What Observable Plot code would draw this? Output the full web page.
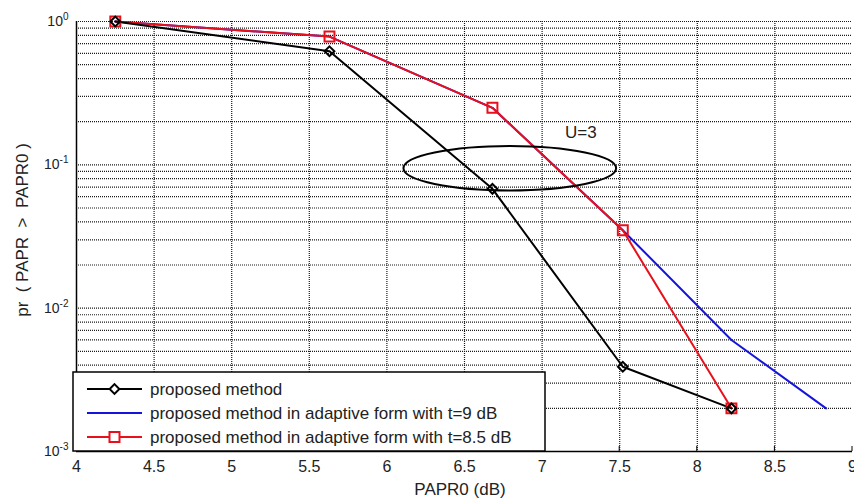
<!DOCTYPE html>
<html>
<head>
<meta charset="utf-8">
<script src="https://cdn.jsdelivr.net/npm/d3@7"></script>
<script src="https://cdn.jsdelivr.net/npm/@observablehq/plot@0.6"></script>
<style>
  body { margin: 0; background: #fff; }
  #chart { width: 854px; height: 500px; font-family: "Liberation Sans", Arial, sans-serif; }
  svg { overflow: visible; }
</style>
</head>
<body>
<div id="chart"></div>
<script>
// ---- data ----
const xBlack = [4.25, 5.63, 6.68, 7.52, 8.22];
const yBlack = [1.0, 0.62, 0.068, 0.0039, 0.002];
const xBlue = [4.25, 5.63, 6.68, 7.52, 8.22, 8.83];
const yBlue = [1.0, 0.785, 0.25, 0.035, 0.006, 0.002];
const xRed = [4.25, 5.63, 6.68, 7.52, 8.22];
const yRed = [1.0, 0.785, 0.25, 0.035, 0.002];
const seriesNames = [
  "proposed method",
  "proposed method in adaptive form with t=9 dB",
  "proposed method in adaptive form with t=8.5 dB"
];
const xTicks = [4, 4.5, 5, 5.5, 6, 6.5, 7, 7.5, 8, 8.5, 9];
const xTickLabels = ["4", "4.5", "5", "5.5", "6", "6.5", "7", "7.5", "8", "8.5", "9"];
const yTicks = [1e-3, 1e-2, 1e-1, 1];
const yTickExponents = ["-3", "-2", "-1", "0"];
const yMinorGrid = [1e-3, 2e-3, 3e-3, 4e-3, 5e-3, 6e-3, 7e-3, 8e-3, 9e-3,
                    1e-2, 2e-2, 3e-2, 4e-2, 5e-2, 6e-2, 7e-2, 8e-2, 9e-2,
                    1e-1, 2e-1, 3e-1, 4e-1, 5e-1, 6e-1, 7e-1, 8e-1, 9e-1, 1];
const xGrid = [4.5, 5, 5.5, 6, 6.5, 7, 7.5, 8, 8.5];
// annotation: ellipse bounds (data units) and label
const ellipseX = [6.11, 7.48];
const ellipseY = [0.0658, 0.134];
const annoText = "U=3";
const annoX = 7.25, annoY = 0.167;

const black = rows(xBlack, yBlack);
const blue = rows(xBlue, yBlue);
const red = rows(xRed, yRed);
function rows(xs, ys) { return xs.map((x, i) => ({x, y: ys[i]})); }

const BLK = "#000000", BLU = "#1414dc", RED = "#e8101c";
const gridStyle = {stroke: "#1a1a1a", strokeWidth: 1.2, strokeDasharray: "1,1"};

const plot = Plot.plot({
  width: 854,
  height: 500,
  marginLeft: 76,
  marginRight: 2,
  marginTop: 21,
  marginBottom: 49,
  style: {fontFamily: "'Liberation Sans', Arial, sans-serif", fontSize: "16px", color: "#222", background: "#fff"},
  x: {domain: [4, 9]},
  y: {type: "log", domain: [1e-3, 1]},
  marks: [
    Plot.ruleY(yMinorGrid, gridStyle),
    Plot.ruleX(xGrid, gridStyle),
    Plot.axisX({ticks: xTicks, tickFormat: (d) => xTickLabels[xTicks.indexOf(d)], tickSize: 0, tickPadding: 9, label: null, fontSize: 16}),
    Plot.axisY({ticks: yTicks, tickFormat: (d) => "10|" + yTickExponents[yTicks.indexOf(d)], tickSize: 0, tickPadding: 8, label: null, fontSize: 14}),
    Plot.ruleX([4], {stroke: "#000", strokeWidth: 1.5}),
    Plot.ruleY([1e-3], {stroke: "#000", strokeWidth: 1.5}),
    Plot.line(blue, {x: "x", y: "y", stroke: BLU, strokeWidth: 2}),
    Plot.line(red, {x: "x", y: "y", stroke: RED, strokeWidth: 2}),
    Plot.line(black, {x: "x", y: "y", stroke: BLK, strokeWidth: 2}),
    Plot.dot(red, {x: "x", y: "y", symbol: "square", r: 5.6, stroke: RED, strokeWidth: 2, fill: "none"}),
    Plot.dot(black, {x: "x", y: "y", symbol: "diamond2", r: 4.4, stroke: BLK, strokeWidth: 2, fill: "none"}),
    Plot.text([annoText], {x: annoX, y: annoY, text: (d) => d, fontSize: 17, fill: "#222"})
  ]
});

document.getElementById("chart").appendChild(plot);

const sx = plot.scale("x"), sy = plot.scale("y");
const svg = d3.select(plot);

// superscript exponents on y tick labels
svg.selectAll('g[aria-label="y-axis tick label"] text').each(function() {
  const t = d3.select(this);
  const parts = t.text().split("|");
  t.text(null);
  t.append("tspan").text(parts[0]);
  t.append("tspan").attr("dy", "-0.6em").attr("font-size", 10).text(parts[1]);
});

// inward tick marks along bottom
const y0 = sy.apply(1e-3);
xTicks.forEach((v) => {
  const px = sx.apply(v);
  svg.append("line").attr("x1", px).attr("x2", px).attr("y1", y0).attr("y2", y0 - 5).attr("stroke", "#000").attr("stroke-width", 1);
});

// ellipse annotation
const ex1 = sx.apply(ellipseX[0]), ex2 = sx.apply(ellipseX[1]);
const ey1 = sy.apply(ellipseY[1]), ey2 = sy.apply(ellipseY[0]);
svg.append("ellipse")
  .attr("cx", (ex1 + ex2) / 2).attr("cy", (ey1 + ey2) / 2)
  .attr("rx", (ex2 - ex1) / 2).attr("ry", (ey2 - ey1) / 2)
  .attr("fill", "none").attr("stroke", "#000").attr("stroke-width", 2);

// axis titles
svg.append("text").attr("x", 460).attr("y", 495)
  .attr("text-anchor", "middle").attr("font-size", 17).attr("fill", "#222")
  .text("PAPR0 (dB)");
svg.append("text").attr("transform", "translate(28,230) rotate(-90)")
  .attr("text-anchor", "middle").attr("font-size", 17).attr("fill", "#222")
  .text("pr\u00a0\u00a0(\u00a0PAPR\u00a0\u00a0>\u00a0\u00a0PAPR0\u00a0)");

// legend box
const lg = svg.append("g").attr("text-anchor", "start");
lg.append("rect").attr("x", 73).attr("y", 372).attr("width", 472).attr("height", 79)
  .attr("fill", "#fff").attr("stroke", "#000").attr("stroke-width", 1.5);
const rowY = [389, 413, 437];
const colors = [BLK, BLU, RED];
rowY.forEach((ry, i) => {
  lg.append("line").attr("x1", 87).attr("x2", 142).attr("y1", ry).attr("y2", ry)
    .attr("stroke", colors[i]).attr("stroke-width", 2);
  if (i === 0) {
    lg.append("path").attr("d", d3.symbol(d3.symbolDiamond2, 60)())
      .attr("transform", `translate(114.5,${ry})`).attr("fill", "#fff").attr("stroke", BLK).attr("stroke-width", 2);
  }
  if (i === 2) {
    lg.append("rect").attr("x", 109.5).attr("y", ry - 5).attr("width", 10).attr("height", 10)
      .attr("fill", "#fff").attr("stroke", RED).attr("stroke-width", 2);
  }
  lg.append("text").attr("x", 150).attr("y", ry + 6).attr("font-size", 17).attr("fill", "#222")
    .attr("text-anchor", "start")
    .text(seriesNames[i]);
});
</script>
</body>
</html>
